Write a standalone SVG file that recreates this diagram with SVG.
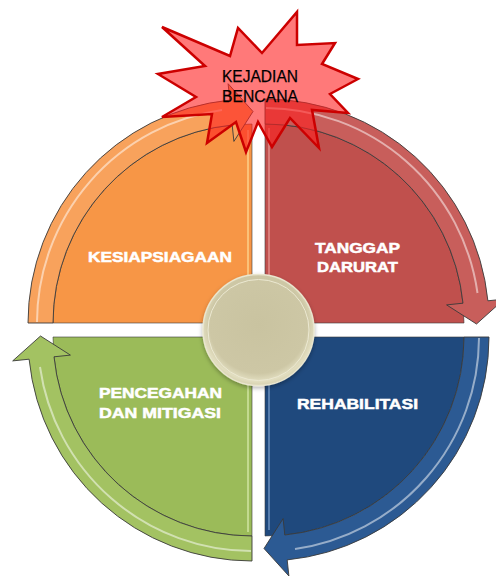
<svg xmlns="http://www.w3.org/2000/svg" width="496" height="577" viewBox="0 0 496 577">
<style>
.lbl{font-family:"Liberation Sans",Arial,sans-serif;font-weight:bold;font-size:15px;fill:#ffffff;stroke:#ffffff;stroke-width:0.5}
.band{stroke:#3a3a3a;stroke-width:0.9;stroke-linejoin:miter}
.hl{fill:none;stroke:#ffffff;stroke-opacity:0.5;stroke-width:2}
.edge{stroke-width:1.5;stroke-opacity:0.7}
.title{font-family:"Liberation Sans",Arial,sans-serif;font-size:17px;fill:#000000;stroke:#000000;stroke-width:0.25}
</style>
<defs>
<radialGradient id="cg" cx="0.5" cy="0.45" r="0.55">
<stop offset="0" stop-color="#c9c3a0"/>
<stop offset="0.8" stop-color="#cdc7a5"/>
<stop offset="0.93" stop-color="#e2dec0"/>
<stop offset="1" stop-color="#d6d1b0"/>
</radialGradient>
<filter id="sh" x="-20%" y="-20%" width="140%" height="140%">
<feDropShadow dx="0" dy="2" stdDeviation="2" flood-color="#000" flood-opacity="0.3"/>
</filter>
</defs>

<g id="kesiapsiagaan">
<path d="M252,323 L53,323 A199,199 0 0 1 252,124 Z" fill="#f79646" stroke="#3a3a3a" stroke-width="0.6"/>
<line class="edge" x1="248" y1="130" x2="248" y2="320" stroke="#ffe9a8"/>
<text class="lbl" x="88" y="262" textLength="144" lengthAdjust="spacingAndGlyphs">KESIAPSIAGAAN</text>
</g>

<g id="tanggap-darurat">
<path d="M265,323 L265,124 A199,199 0 0 1 464,323 Z" fill="#c0504d" stroke="#3a3a3a" stroke-width="0.6"/>
<line class="edge" x1="269" y1="128" x2="269" y2="320" stroke="#f0a8a6"/>
<text class="lbl" x="315" y="253" textLength="85" lengthAdjust="spacingAndGlyphs">TANGGAP</text>
<text class="lbl" x="317" y="272" textLength="81" lengthAdjust="spacingAndGlyphs">DARURAT</text>
</g>

<g id="rehabilitasi">
<path d="M265,337 L464,337 A199,199 0 0 1 265,536 Z" fill="#1f497d" stroke="#3a3a3a" stroke-width="0.6"/>
<line class="edge" x1="269" y1="341" x2="269" y2="530" stroke="#8fb0dc"/>
<text class="lbl" x="297" y="409" textLength="121" lengthAdjust="spacingAndGlyphs">REHABILITASI</text>
</g>

<g id="pencegahan-mitigasi">
<path d="M252,337 L252,536 A199,199 0 0 1 53,337 Z" fill="#9bbb59" stroke="#3a3a3a" stroke-width="0.6"/>
<line class="edge" x1="248" y1="341" x2="248" y2="532" stroke="#e8f5c0"/>
<text class="lbl" x="99" y="398" textLength="123" lengthAdjust="spacingAndGlyphs">PENCEGAHAN</text>
<text class="lbl" x="99" y="418" textLength="122" lengthAdjust="spacingAndGlyphs">DAN MITIGASI</text>
</g>

<g id="connectors">
<path class="band" fill="#f8a25c" d="M28,323 A224,224 0 0 1 229.8,100.1 L228.1,83.7 L253,111.5 L233.9,141.4 L232.2,125 A199,199 0 0 0 53,323 Z"/>
<path class="hl" stroke="#fff4c8" d="M37,322 A215,215 0 0 1 222,110"/>
<path class="band" fill="#c85e5b" d="M265,99 A224,224 0 0 1 487.9,300.8 L504.3,299.1 L476.5,324 L446.6,304.9 L463,303.2 A199,199 0 0 0 265,124 Z"/>
<path class="hl" d="M266,108 A215,215 0 0 1 477.5,293"/>
<path class="band" fill="#2c5a93" d="M489,337 A224,224 0 0 1 287.2,559.9 L288.9,576 L264,548.5 L283.1,518.6 L284.8,535 A199,199 0 0 0 464,337 Z"/>
<path class="hl" stroke="#b8d0f0" d="M479,338 A214,214 0 0 1 295,549"/>
<path class="band" fill="#a3c262" d="M252,561 A224,224 0 0 1 29.1,359.2 L12.7,360.9 L40.5,336 L70.4,355.1 L54,356.8 A199,199 0 0 0 252,536 Z"/>
<path class="hl" stroke="#eef8c8" d="M251,551 A214,214 0 0 1 40,367"/>
</g>

<g id="pusat" filter="url(#sh)">
<circle cx="258.5" cy="330" r="55.5" fill="url(#cg)" stroke="#e9e6cf" stroke-width="1.5"/>
<circle cx="258.5" cy="330" r="50.5" fill="none" stroke="#ece9d2" stroke-width="1"/>
</g>

<g id="kejadian-bencana">
<path d="M162,27 L230,56 L238,28 L262,53 L297,12 L297,45 L335,43 L322,64 L358,79 L330,94 L348,113 L312,110 L319,148 L290,118 L272,147 L258,122 L246,152 L236,122 L207,143 L212,114 L162,117 L196,97 L158,74 L205,66 Z" fill="#ff2020" fill-opacity="0.6" stroke="#cc0000" stroke-width="2.5" stroke-linejoin="miter"/>
<text class="title" x="222" y="82" textLength="76" lengthAdjust="spacingAndGlyphs">KEJADIAN</text>
<text class="title" x="222" y="102" textLength="76" lengthAdjust="spacingAndGlyphs">BENCANA</text>
</g>
</svg>
